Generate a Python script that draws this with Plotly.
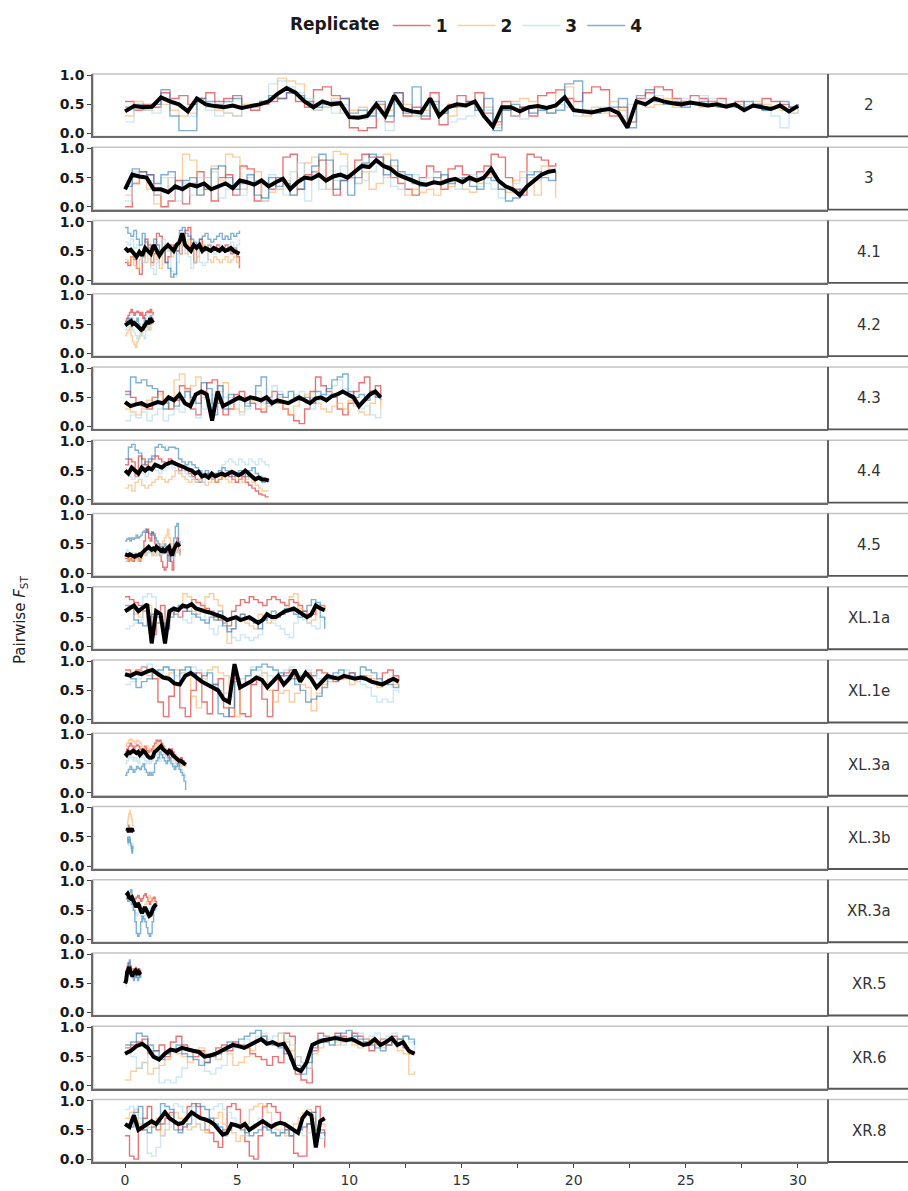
import numpy as np
import plotly.graph_objects as go
from plotly.subplots import make_subplots

# Chromosome arms shown as facet rows, with their span along the x axis (Mb)
chromosomes = ["2", "3", "4.1", "4.2", "4.3", "4.4", "4.5", "XL.1a", "XL.1e",
               "XL.3a", "XL.3b", "XR.3a", "XR.5", "XR.6", "XR.8"]
chrom_start = [0, 0, 0, 0, 0, 0, 0, 0, 0, 0, 0.1, 0.05, 0.0, 0, 0]
chrom_end = [30.0, 19.2, 5.1, 1.25, 11.4, 6.4, 2.45, 8.9, 12.2, 2.7, 0.35, 1.4, 0.7, 12.9, 8.9]
replicates = ["1", "2", "3", "4"]
rep_colors = ["rgba(215,25,28,0.6)", "rgba(253,174,97,0.6)",
              "rgba(171,217,233,0.6)", "rgba(44,123,182,0.6)"]
y_ticks = [0, 0.5, 1.0]
y_tick_text = ["0.0", "0.5", "1.0"]
x_ticks = [0, 5, 10, 15, 20, 25, 30]
x_tick_text = ["0", "5", "10", "15", "20", "25", "30"]

# ---- chromosome 2 ----
c2_mean = [.38,.47,.45,.46,.62,.55,.5,.38,.6,.5,.47,.45,.48,.44,.47,.5,.55,.68,.78,.7,.55,.45,.55,.5,.52,.28,.27,.3,.5,.3,.65,.42,.38,.36,.6,.3,.45,.5,.48,.55,.3,.12,.45,.45,.38,.45,.47,.44,.48,.62,.4,.38,.36,.4,.42,.35,.1,.55,.5,.6,.55,.52,.5,.53,.5,.48,.5,.46,.5,.4,.48,.45,.42,.48,.38,.47]
c2_r1 = [.55,.4,.5,.45,.7,.6,.65,.5,.6,.7,.55,.6,.65,.45,.4,.5,.55,.6,.7,.55,.45,.75,.8,.65,.6,.1,.05,.1,.5,.2,.7,.3,.45,.25,.7,.15,.5,.65,.55,.7,.35,.2,.55,.3,.45,.3,.65,.7,.75,.6,.55,.7,.8,.75,.3,.45,.2,.6,.7,.8,.75,.6,.55,.65,.6,.55,.6,.5,.55,.45,.5,.6,.55,.5,.45,.5]
c2_r2 = [.3,.55,.4,.5,.5,.4,.3,.35,.55,.45,.4,.35,.3,.5,.45,.55,.6,.95,.9,.85,.55,.4,.45,.6,.35,.4,.45,.35,.5,.4,.55,.5,.3,.4,.5,.35,.3,.45,.5,.4,.45,.15,.4,.55,.6,.55,.45,.35,.75,.8,.4,.3,.45,.35,.55,.4,.2,.5,.45,.5,.6,.45,.5,.5,.45,.55,.5,.45,.5,.45,.55,.5,.45,.4,.35,.45]
c2_r3 = [.2,.45,.4,.35,.6,.5,.45,.3,.55,.4,.3,.35,.3,.45,.5,.55,.85,.9,.8,.7,.6,.4,.45,.35,.5,.3,.25,.3,.35,.05,.5,.4,.3,.35,.5,.4,.2,.25,.3,.45,.4,.1,.45,.3,.25,.35,.4,.35,.5,.45,.3,.4,.35,.45,.4,.3,.5,.55,.6,.65,.55,.5,.6,.5,.65,.6,.55,.5,.45,.5,.45,.4,.3,.1,.35,.45]
c2_r4 = [.45,.5,.48,.5,.75,.3,.05,.05,.6,.55,.5,.55,.6,.45,.5,.55,.65,.6,.7,.65,.55,.45,.5,.55,.6,.35,.4,.3,.55,.3,.7,.35,.8,.3,.55,.35,.45,.5,.55,.4,.6,.05,.4,.5,.45,.35,.4,.35,.4,.85,.9,.4,.35,.4,.45,.6,.1,.65,.75,.55,.5,.55,.45,.5,.55,.5,.45,.5,.45,.55,.5,.4,.45,.55,.45,.5]

# ---- chromosome 3 ----
c3_mean = [.3,.55,.52,.5,.3,.3,.25,.35,.3,.38,.35,.4,.3,.35,.4,.32,.45,.42,.38,.45,.35,.42,.48,.3,.42,.5,.48,.55,.45,.52,.55,.5,.6,.7,.68,.8,.7,.65,.55,.5,.45,.4,.38,.42,.4,.45,.48,.42,.5,.45,.5,.65,.45,.35,.3,.2,.35,.45,.55,.6,.62]
c3_r1 = [0,.4,.6,.55,.2,0,.1,.45,.05,.4,.6,.3,.1,.5,.55,.2,.7,.65,.1,.4,.3,.5,.85,.9,.3,.55,.6,.8,.5,.2,.45,.5,.8,.9,.85,.85,.7,.5,.4,.3,.2,.5,.7,.6,.3,.65,.7,.55,.45,.6,.7,.9,.85,.5,.3,.2,.9,.85,.8,.7,.75]
c3_r2 = [.2,.4,.5,.3,.05,.3,.5,.3,.9,.8,.2,.5,.7,.45,.9,.85,.3,.4,.6,.1,.25,.3,.45,.2,.5,.75,.85,.5,.3,.95,.9,.5,.4,.6,.3,.4,.9,.7,.5,.2,.3,.25,.3,.2,.45,.35,.5,.3,.25,.4,.55,.5,.3,.25,.45,.6,.5,.2,.7,.6,.15]
c3_r3 = [.1,.6,.5,.45,.2,.5,.3,.1,.4,.2,.5,.35,.6,.15,.3,.4,.2,.5,.45,.1,.55,.3,.2,.6,.75,.1,.6,.3,.5,.45,.7,.55,.4,.45,.6,.75,.5,.35,.3,.5,.55,.45,.5,.6,.4,.45,.3,.5,.55,.35,.4,.3,.15,.3,.4,.5,.6,.45,.55,.65,.6]
c3_r4 = [.35,.65,.6,.55,.4,.55,.6,.3,.45,.5,.2,.35,.65,.7,.5,.3,.4,.55,.2,.15,.5,.35,.4,.2,.3,.5,.7,.9,.8,.3,.45,.2,.5,.75,.9,.85,.55,.8,.6,.55,.4,.35,.4,.5,.55,.4,.45,.5,.35,.3,.5,.45,.3,.1,.15,.3,.55,.6,.5,.45,.6]

# ---- 4.1 ----
c41_mean = [.55,.5,.52,.45,.4,.48,.42,.55,.5,.45,.6,.5,.42,.5,.55,.6,.55,.5,.6,.65,.8,.6,.55,.5,.6,.55,.6,.5,.55,.52,.5,.55,.52,.5,.55,.5,.52,.55,.5,.48,.45]
c41_r1 = [.3,.25,.4,.35,.2,.1,.4,.7,.6,.3,.45,.8,.75,.5,.3,.4,.6,.55,.5,.45,.6,.85,.9,.5,.3,.6,.7,.5,.55,.6,.5,.55,.6,.5,.55,.6,.5,.45,.55,.4,.2]
c41_r2 = [.35,.3,.4,.25,.2,.35,.45,.3,.6,.25,.5,.35,.2,.45,.6,.5,.4,.55,.5,.6,.65,.45,.7,.6,.3,.4,.55,.6,.5,.35,.3,.4,.35,.3,.35,.4,.3,.35,.4,.3,.25]
c41_r3 = [.65,.6,.7,.55,.6,.4,.3,.5,.45,.2,.1,.3,.45,.7,.6,.5,.15,.05,.3,.45,.6,.55,.4,.2,.3,.5,.3,.25,.3,.6,.5,.45,.55,.6,.5,.55,.6,.65,.55,.6,.7]
c41_r4 = [.9,.8,.75,.85,.7,.6,.8,.65,.55,.5,.7,.6,.45,.5,.3,.2,.05,.1,.5,.85,.9,.8,.75,.7,.65,.6,.7,.75,.8,.7,.65,.7,.75,.8,.7,.75,.7,.8,.75,.8,.85]

# ---- 4.2 ----
c42_mean = [.48,.5,.52,.55,.55,.5,.52,.5,.48,.45,.42,.4,.42,.45,.5,.55,.5,.6,.55,.52]
c42_r1 = [.55,.6,.65,.7,.75,.7,.65,.7,.72,.7,.65,.7,.6,.65,.7,.72,.7,.75,.7,.65]
c42_r2 = [.3,.35,.4,.45,.3,.2,.15,.1,.2,.25,.3,.35,.4,.45,.5,.45,.4,.5,.55,.5]
c42_r3 = [.4,.45,.5,.55,.45,.4,.35,.3,.25,.3,.4,.35,.3,.25,.4,.5,.45,.4,.5,.55]
c42_r4 = [.5,.55,.6,.55,.6,.55,.5,.55,.6,.5,.45,.4,.5,.6,.55,.5,.6,.65,.6,.55]

# ---- 4.3 ----
c43_mean = [.42,.35,.38,.4,.35,.38,.42,.4,.5,.45,.55,.4,.35,.55,.6,.55,.1,.6,.35,.4,.45,.5,.45,.5,.48,.45,.5,.4,.45,.42,.4,.45,.5,.45,.4,.48,.5,.45,.52,.55,.6,.55,.5,.35,.45,.55,.6,.5]
c43_r1 = [.6,.5,.4,.35,.3,.5,.6,.4,.3,.45,.7,.65,.3,.2,.6,.75,.8,.4,.2,.3,.55,.6,.5,.4,.3,.25,.5,.6,.4,.3,.2,.1,.05,.3,.6,.85,.7,.6,.5,.3,.2,.4,.6,.75,.85,.6,.7,.5]
c43_r2 = [.3,.25,.2,.3,.45,.5,.55,.4,.3,.8,.9,.6,.7,.85,.5,.45,.4,.6,.75,.5,.3,.25,.4,.45,.5,.3,.35,.4,.5,.3,.2,.35,.45,.55,.5,.4,.3,.25,.35,.4,.3,.45,.35,.25,.2,.4,.5,.3]
c43_r3 = [.1,.2,.15,.25,.1,.2,.3,.1,.2,.3,.25,.6,.4,.15,.3,.4,.55,.7,.5,.4,.45,.2,.3,.5,.6,.4,.35,.7,.6,.5,.45,.55,.6,.4,.3,.45,.5,.55,.7,.8,.65,.5,.4,.3,.35,.2,.15,.3]
c43_r4 = [.55,.85,.75,.8,.7,.65,.4,.3,.45,.35,.5,.6,.5,.4,.75,.65,.2,.7,.3,.55,.5,.45,.35,.5,.7,.85,.4,.45,.55,.5,.6,.5,.45,.5,.4,.6,.55,.65,.8,.85,.9,.6,.5,.55,.45,.6,.5,.45]

# ---- 4.4 ----
c44_mean = [.5,.45,.55,.5,.45,.55,.5,.55,.52,.6,.58,.55,.6,.62,.65,.62,.6,.58,.55,.52,.5,.45,.48,.4,.42,.38,.45,.4,.42,.45,.42,.45,.48,.45,.42,.45,.5,.45,.4,.35,.38,.35,.35,.33]
c44_r1 = [.6,.7,.65,.4,.75,.7,.6,.65,.7,.75,.7,.65,.6,.7,.65,.6,.5,.55,.5,.45,.4,.35,.3,.4,.45,.4,.35,.3,.35,.4,.45,.4,.35,.3,.35,.4,.3,.25,.2,.15,.1,.08,.05,.05]
c44_r2 = [.2,.25,.15,.3,.35,.25,.2,.25,.3,.35,.4,.35,.3,.35,.4,.5,.45,.4,.35,.3,.35,.3,.35,.3,.25,.3,.35,.3,.35,.4,.35,.3,.35,.4,.35,.3,.35,.4,.3,.25,.2,.15,.15,.15]
c44_r3 = [.45,.4,.35,.4,.5,.45,.4,.5,.55,.5,.45,.5,.55,.6,.55,.5,.45,.5,.45,.4,.35,.3,.35,.3,.4,.35,.4,.45,.5,.6,.65,.7,.65,.6,.7,.65,.6,.7,.65,.6,.7,.65,.6,.55]
c44_r4 = [.7,.9,.95,.85,.8,.6,.65,.7,.75,.9,.95,.9,.85,.9,.9,.88,.7,.65,.6,.65,.6,.55,.5,.45,.5,.45,.4,.45,.5,.55,.5,.45,.4,.45,.5,.45,.4,.5,.55,.45,.4,.3,.35,.3]

# ---- 4.5 ----
c45_mean = [.32,.3,.3,.32,.3,.3,.28,.3,.3,.32,.3,.35,.38,.4,.42,.45,.42,.4,.42,.4,.45,.42,.4,.38,.4,.35,.4,.42,.45,.35,.3,.4,.45,.5,.48,.5]
c45_r1 = [.25,.25,.2,.25,.22,.2,.25,.3,.25,.2,.3,.35,.55,.7,.75,.6,.55,.7,.65,.5,.4,.45,.3,.2,.1,.05,.1,.3,.4,.2,.05,.3,.5,.6,.4,.3]
c45_r2 = [.2,.2,.25,.2,.22,.25,.3,.25,.2,.22,.25,.3,.35,.3,.35,.4,.35,.3,.35,.3,.4,.45,.5,.4,.55,.6,.65,.75,.6,.5,.45,.3,.4,.35,.4,.45]
c45_r3 = [.35,.4,.35,.3,.35,.3,.35,.3,.25,.3,.35,.4,.35,.3,.35,.4,.35,.3,.35,.4,.35,.3,.35,.3,.35,.4,.35,.4,.35,.3,.25,.3,.35,.4,.35,.3]
c45_r4 = [.55,.58,.6,.55,.6,.58,.6,.65,.6,.62,.65,.7,.72,.75,.7,.68,.65,.7,.68,.6,.55,.5,.45,.4,.45,.5,.45,.3,.2,.35,.4,.6,.8,.85,.5,.55]

# ---- XL.1a ----
xl1a_mean = [.6,.65,.7,.6,.65,.72,.05,.6,.55,.05,.6,.65,.62,.7,.68,.72,.65,.62,.6,.58,.55,.52,.5,.45,.48,.5,.45,.48,.5,.45,.4,.45,.55,.5,.5,.55,.6,.62,.65,.6,.55,.5,.55,.7,.65,.62]
xl1a_r1 = [.85,.8,.75,.7,.6,.5,.2,.4,.7,.3,.6,.55,.5,.6,.7,.8,.75,.7,.65,.6,.5,.45,.4,.35,.6,.7,.8,.75,.85,.8,.75,.7,.8,.85,.8,.75,.7,.8,.75,.7,.6,.5,.55,.65,.7,.6]
xl1a_r2 = [.6,.65,.55,.5,.6,.7,.5,.6,.5,.4,.55,.6,.65,.9,.85,.6,.55,.65,.85,.9,.8,.7,.4,.05,.3,.5,.55,.4,.35,.3,.55,.5,.4,.45,.5,.55,.6,.85,.9,.65,.55,.4,.45,.65,.7,.6]
xl1a_r3 = [.3,.35,.4,.45,.85,.9,.85,.4,.5,.3,.6,.55,.5,.45,.4,.5,.55,.6,.45,.3,.2,.35,.4,.3,.15,.1,.2,.15,.1,.15,.2,.45,.5,.4,.35,.3,.2,.15,.4,.5,.45,.4,.35,.3,.5,.45]
xl1a_r4 = [.7,.65,.45,.4,.35,.5,.55,.5,.4,.3,.5,.6,.7,.65,.6,.55,.5,.45,.4,.5,.45,.6,.35,.25,.3,.5,.55,.5,.45,.4,.3,.45,.5,.6,.5,.55,.65,.6,.55,.5,.6,.7,.8,.75,.5,.3]

# ---- XL.1e ----
xl1e_mean = [.78,.75,.8,.78,.82,.85,.78,.72,.7,.62,.6,.75,.8,.72,.65,.6,.55,.5,.35,.3,.95,.55,.6,.65,.72,.68,.55,.65,.75,.6,.7,.85,.65,.8,.7,.55,.65,.75,.72,.7,.75,.72,.7,.72,.7,.65,.62,.6,.65,.7,.65]
xl1e_r1 = [.85,.8,.85,.9,.85,.7,.3,.05,.4,.6,.2,.05,.5,.8,.3,.1,.6,.7,.2,.05,.7,.1,.05,.6,.7,.35,.05,.5,.75,.8,.85,.7,.75,.8,.75,.85,.8,.75,.65,.7,.75,.8,.7,.75,.7,.65,.6,.8,.85,.75,.7]
xl1e_r2 = [.75,.8,.85,.8,.75,.8,.7,.75,.8,.85,.8,.75,.4,.2,.7,.85,.9,.8,.75,.2,.05,.6,.65,.7,.75,.8,.5,.3,.45,.5,.3,.45,.6,.55,.15,.45,.6,.65,.7,.75,.7,.6,.65,.7,.75,.7,.55,.6,.7,.6,.65]
xl1e_r3 = [.6,.65,.7,.9,.95,.85,.8,.9,.85,.75,.8,.85,.9,.85,.8,.6,.55,.5,.45,.4,.6,.7,.75,.9,.85,.8,.75,.7,.8,.85,.9,.8,.75,.85,.8,.7,.65,.7,.75,.8,.85,.75,.7,.6,.55,.4,.3,.35,.3,.5,.45]
xl1e_r4 = [.75,.7,.55,.65,.7,.8,.85,.9,.85,.6,.85,.9,.8,.7,.75,.8,.6,.1,.05,.2,.65,.6,.75,.85,.9,.95,.9,.85,.8,.75,.7,.6,.5,.3,.35,.4,.55,.7,.8,.85,.75,.8,.7,.9,.85,.8,.7,.65,.6,.55,.6]

# ---- XL.3a ----
xl3a_mean = [.68,.65,.7,.68,.7,.72,.7,.68,.7,.65,.68,.72,.7,.65,.62,.6,.6,.62,.7,.72,.75,.78,.8,.75,.72,.7,.68,.72,.7,.65,.62,.6,.58,.55,.55,.52,.5,.48]
xl3a_r1 = [.7,.75,.8,.85,.8,.75,.8,.82,.8,.75,.7,.75,.8,.72,.7,.72,.75,.8,.85,.9,.88,.9,.85,.8,.7,.65,.6,.7,.75,.7,.65,.6,.55,.5,.6,.55,.5,.45]
xl3a_r2 = [.8,.85,.9,.92,.9,.88,.85,.9,.88,.85,.8,.75,.78,.8,.75,.7,.72,.75,.8,.85,.82,.8,.85,.8,.75,.7,.65,.7,.68,.6,.55,.5,.55,.5,.45,.5,.48,.45]
xl3a_r3 = [.5,.55,.6,.65,.6,.55,.6,.55,.5,.6,.65,.6,.55,.5,.55,.5,.55,.6,.65,.7,.6,.55,.6,.65,.7,.6,.55,.6,.55,.5,.45,.5,.55,.45,.4,.35,.3,.25]
xl3a_r4 = [.3,.35,.4,.45,.4,.35,.4,.45,.42,.4,.45,.5,.4,.35,.3,.35,.3,.35,.5,.55,.6,.7,.65,.6,.55,.5,.55,.6,.5,.45,.4,.45,.5,.4,.35,.3,.2,.05]

# ---- XL.3b ----
xl3b_mean = [.6,.62,.65,.6,.58,.62,.65,.6,.62,.6,.58,.62,.65,.62,.6,.62]
xl3b_r1 = [.6,.62,.65,.7,.68,.65,.6,.62,.65,.6,.62,.65,.6,.58,.6,.62]
xl3b_r2 = [.7,.75,.8,.85,.9,.88,.92,.95,.9,.88,.85,.82,.8,.75,.7,.68]
xl3b_r3 = [.45,.4,.38,.35,.4,.45,.5,.45,.4,.35,.3,.28,.25,.3,.35,.4]
xl3b_r4 = [.5,.45,.4,.42,.45,.5,.48,.45,.4,.38,.35,.3,.25,.22,.3,.35]

# ---- XR.3a ----
xr3a_mean = [.75,.78,.72,.7,.72,.65,.6,.55,.62,.58,.5,.45,.5,.55,.5,.45,.4,.42,.5,.55,.58,.6]
xr3a_r1 = [.7,.75,.72,.7,.65,.68,.7,.72,.75,.7,.65,.7,.75,.78,.72,.65,.6,.65,.7,.72,.65,.6]
xr3a_r2 = [.75,.8,.78,.72,.7,.65,.6,.62,.65,.6,.55,.5,.55,.6,.65,.7,.75,.7,.65,.6,.55,.6]
xr3a_r3 = [.8,.75,.7,.6,.55,.5,.45,.4,.45,.5,.4,.3,.35,.4,.45,.5,.55,.5,.45,.5,.55,.5]
xr3a_r4 = [.7,.65,.8,.85,.6,.5,.3,.1,.05,.1,.3,.4,.35,.3,.2,.1,.05,.1,.3,.5,.6,.55]

# ---- XR.5 ----
xr5_mean = [.5,.55,.7,.75,.78,.7,.65,.62,.68,.7,.72,.68,.65,.7,.68,.7]
xr5_r1 = [.6,.7,.8,.85,.8,.75,.7,.72,.75,.7,.68,.72,.7,.75,.72,.7]
xr5_r2 = [.55,.6,.75,.8,.85,.8,.75,.7,.72,.75,.78,.72,.7,.68,.7,.72]
xr5_r3 = [.45,.5,.6,.7,.75,.72,.7,.65,.6,.62,.65,.6,.62,.65,.6,.62]
xr5_r4 = [.5,.55,.65,.85,.9,.8,.7,.6,.55,.6,.65,.6,.55,.6,.65,.6]

# ---- XR.6 ----
xr6_mean = [.55,.6,.68,.72,.65,.5,.45,.55,.62,.6,.65,.62,.6,.58,.5,.52,.55,.6,.65,.7,.68,.65,.7,.75,.8,.72,.75,.7,.72,.55,.3,.25,.4,.7,.75,.78,.8,.82,.8,.78,.8,.75,.7,.72,.8,.7,.75,.82,.7,.75,.6,.55]
xr6_r1 = [.65,.7,.75,.8,.55,.6,.7,.5,.75,.85,.7,.6,.5,.6,.4,.55,.65,.7,.6,.75,.7,.65,.55,.5,.45,.35,.5,.4,.9,.85,.2,.1,.05,.6,.9,.85,.8,.9,.85,.8,.9,.85,.8,.6,.75,.8,.7,.85,.8,.65,.55,.6]
xr6_r2 = [.1,.25,.3,.4,.2,.3,.35,.45,.6,.55,.5,.4,.6,.65,.55,.5,.45,.6,.55,.35,.4,.5,.6,.8,.85,.7,.75,.9,.75,.6,.5,.4,.3,.55,.65,.75,.8,.7,.75,.8,.7,.65,.75,.8,.7,.65,.7,.75,.6,.55,.2,.25]
xr6_r3 = [.6,.5,.3,.4,.6,.5,.05,.1,.05,.15,.3,.5,.6,.55,.25,.2,.3,.35,.7,.65,.7,.8,.75,.85,.9,.8,.85,.9,.8,.7,.5,.4,.3,.7,.8,.85,.8,.75,.7,.8,.85,.9,.8,.85,.9,.8,.85,.9,.8,.85,.75,.6]
xr6_r4 = [.7,.75,.9,.85,.7,.6,.45,.55,.6,.7,.55,.5,.45,.35,.4,.5,.55,.6,.75,.7,.8,.85,.9,.95,.85,.75,.7,.65,.55,.45,.35,.2,.4,.65,.8,.75,.7,.85,.9,.95,.85,.8,.75,.7,.65,.6,.7,.75,.8,.85,.8,.7]

# ---- XR.8 ----
xr8_mean = [.6,.55,.75,.5,.55,.6,.65,.6,.7,.8,.7,.65,.6,.62,.7,.8,.75,.7,.68,.65,.6,.5,.42,.45,.6,.58,.55,.6,.5,.55,.6,.65,.6,.55,.6,.62,.6,.55,.5,.45,.7,.8,.75,.2,.65,.7]
xr8_r1 = [.4,.05,0,.5,.7,.9,.6,.5,.6,.7,.8,.6,.5,.65,.9,.95,.9,.7,.5,.45,.3,.2,.5,.9,.95,.85,.6,.3,.05,0,.4,.9,.95,.9,.8,.6,.5,.4,.1,.05,.05,.6,.8,.9,.5,.2]
xr8_r2 = [.7,.8,.85,.6,.5,.55,.6,.7,.4,.5,.75,.8,.7,.6,.5,.55,.6,.5,.45,.6,.7,.8,.6,.5,.45,.3,.4,.6,.85,.9,.95,.9,.8,.6,.5,.45,.4,.5,.6,.7,.8,.85,.7,.5,.6,.55]
xr8_r3 = [.85,.9,.8,.7,.6,.1,.05,.2,.4,.6,.7,.95,.9,.8,.85,.9,.6,.5,.7,.85,.9,.95,.85,.8,.7,.6,.5,.4,.55,.6,.7,.65,.5,.45,.4,.5,.45,.4,.5,.45,.4,.45,.5,.4,.35,.4]
xr8_r4 = [.6,.55,.8,.9,.5,.45,.55,.6,.95,.9,.85,.5,.45,.55,.6,.8,.95,.9,.85,.7,.6,.55,.4,.5,.6,.55,.5,.45,.4,.45,.5,.55,.5,.45,.4,.45,.5,.4,.45,.5,.55,.6,.8,.5,.45,.4]

panel_data = [
    (c2_mean, [c2_r1, c2_r2, c2_r3, c2_r4]),
    (c3_mean, [c3_r1, c3_r2, c3_r3, c3_r4]),
    (c41_mean, [c41_r1, c41_r2, c41_r3, c41_r4]),
    (c42_mean, [c42_r1, c42_r2, c42_r3, c42_r4]),
    (c43_mean, [c43_r1, c43_r2, c43_r3, c43_r4]),
    (c44_mean, [c44_r1, c44_r2, c44_r3, c44_r4]),
    (c45_mean, [c45_r1, c45_r2, c45_r3, c45_r4]),
    (xl1a_mean, [xl1a_r1, xl1a_r2, xl1a_r3, xl1a_r4]),
    (xl1e_mean, [xl1e_r1, xl1e_r2, xl1e_r3, xl1e_r4]),
    (xl3a_mean, [xl3a_r1, xl3a_r2, xl3a_r3, xl3a_r4]),
    (xl3b_mean, [xl3b_r1, xl3b_r2, xl3b_r3, xl3b_r4]),
    (xr3a_mean, [xr3a_r1, xr3a_r2, xr3a_r3, xr3a_r4]),
    (xr5_mean, [xr5_r1, xr5_r2, xr5_r3, xr5_r4]),
    (xr6_mean, [xr6_r1, xr6_r2, xr6_r3, xr6_r4]),
    (xr8_mean, [xr8_r1, xr8_r2, xr8_r3, xr8_r4]),
]

n_rows = len(chromosomes)
W, H = 908, 1191
M_L, M_R, M_T, M_B = 93, 80, 74, 29
plot_w = W - M_L - M_R
plot_h = H - M_T - M_B
gap_px = 10.8

fig = make_subplots(rows=n_rows, cols=1, shared_xaxes=True,
                    vertical_spacing=gap_px / plot_h)

for i, (name, start, end, (mean_vals, reps)) in enumerate(
        zip(chromosomes, chrom_start, chrom_end, panel_data)):
    row = i + 1
    for r, (vals, col) in enumerate(zip(reps, rep_colors)):
        xs = np.linspace(start, end, len(vals))
        fig.add_trace(go.Scatter(
            x=xs, y=vals, mode="lines", line=dict(color=col, width=1.4, shape="hv"),
            name=replicates[r], legendgroup=replicates[r], showlegend=(i == 0),
        ), row=row, col=1)
    xs = np.linspace(start, end, len(mean_vals))
    fig.add_trace(go.Scatter(
        x=xs, y=mean_vals, mode="lines", line=dict(color="black", width=4),
        showlegend=False, hoverinfo="skip",
    ), row=row, col=1)

axis_dark = "#6b6b6b"
frame_light = "#c4c4c4"
font_family = "DejaVu Sans, Verdana, sans-serif"

fig.update_yaxes(range=[-0.05, 1.02], tickvals=y_ticks, ticktext=y_tick_text,
                 ticks="outside", ticklen=4, tickwidth=1.3, tickcolor="#444",
                 tickfont=dict(family=font_family, size=14, color="#1a1a1a", weight="bold"),
                 showgrid=False, zeroline=False, showline=True,
                 linecolor=axis_dark, linewidth=1.5, fixedrange=True)
fig.update_xaxes(range=[-1.43, 31.34], showgrid=False, zeroline=False,
                 showline=True, linecolor=axis_dark, linewidth=1.5,
                 showticklabels=False, ticks="")
fig.update_xaxes(tickvals=x_ticks, ticktext=x_tick_text, ticks="outside",
                 ticklen=4, tickwidth=1.3, tickcolor="#444", showticklabels=True,
                 minor=dict(dtick=2.5, tick0=0, ticks="outside", ticklen=4,
                            tickwidth=1.3, tickcolor="#444"),
                 tickfont=dict(family=font_family, size=14, color="#333"),
                 row=n_rows, col=1)

# panel frames and right-hand strip boxes with labels
strip_x0 = 1.0
strip_x1 = (W - M_L + 2) / plot_w
for i, name in enumerate(chromosomes):
    yax = fig.layout["yaxis" if i == 0 else f"yaxis{i + 1}"]
    y0, y1 = yax.domain
    fig.add_shape(type="rect", xref="paper", yref="paper", x0=0, x1=1, y0=y0, y1=y1,
                  line=dict(color=frame_light, width=1.5), layer="below")
    fig.add_shape(type="line", xref="paper", yref="paper", x0=strip_x0, x1=strip_x1,
                  y0=y1, y1=y1, line=dict(color=frame_light, width=1.5))
    fig.add_shape(type="line", xref="paper", yref="paper", x0=strip_x0, x1=strip_x0,
                  y0=y0, y1=y1, line=dict(color="#555", width=1.8))
    fig.add_shape(type="line", xref="paper", yref="paper", x0=strip_x0, x1=strip_x1,
                  y0=y0, y1=y0, line=dict(color="#555", width=1.8))
    fig.add_annotation(x=1.0 + 41 / plot_w, y=(y0 + y1) / 2,
                       xref="paper", yref="paper", text=name, showarrow=False,
                       xanchor="center", yanchor="middle",
                       font=dict(family=font_family, size=15, color="#333"))

fig.add_annotation(x=(20 - M_L) / plot_w, y=(H - M_B - 620) / plot_h,
                   xref="paper", yref="paper",
                   text="Pairwise <i>F</i><sub>ST</sub>", textangle=-90, showarrow=False,
                   xanchor="center", yanchor="middle",
                   font=dict(family=font_family, size=15, color="#222"))

fig.update_layout(
    width=W, height=H,
    margin=dict(l=M_L, r=M_R, t=M_T, b=M_B, autoexpand=False),
    plot_bgcolor="white", paper_bgcolor="white",
    legend=dict(orientation="h", x=(468 - M_L) / plot_w, xanchor="center",
                y=1 + 48 / plot_h, yanchor="middle",
                title=dict(text="Replicate", side="left",
                           font=dict(family=font_family, size=17, color="#1a1a1a", weight="bold")),
                font=dict(family=font_family, size=17, color="#1a1a1a", weight="bold"),
                itemwidth=38, tracegroupgap=0),
)

fig.write_html("out.html")
